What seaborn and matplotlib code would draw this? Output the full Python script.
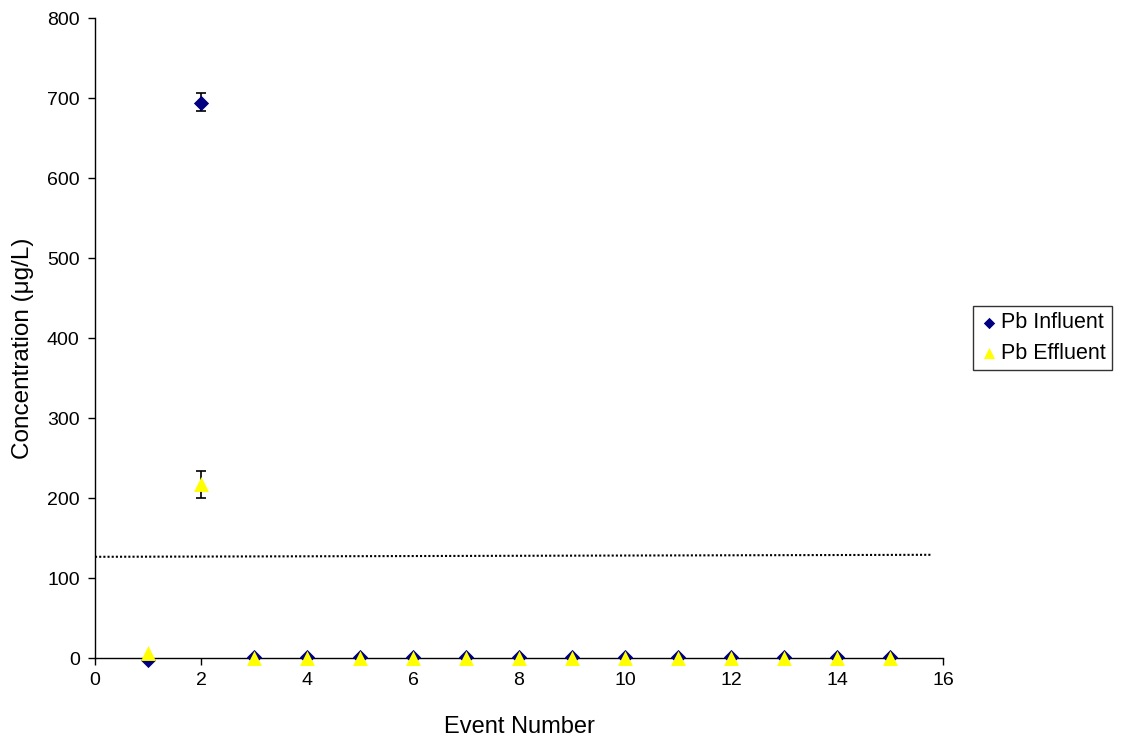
import numpy as np
import pandas as pd
import seaborn as sns
import matplotlib.pyplot as plt

events = [1, 2, 3, 4, 5, 6, 7, 8, 9, 10, 11, 12, 13, 14, 15]
influent = [-3, 694, 1, 1, 1, 1, 1, 1, 1, 1, 1, 1, 1, 1, 1]
effluent = [6, 217, 0.5, 0.5, 0.5, 0.5, 0.5, 0.5, 0.5, 0.5, 0.5, 0.5, 0.5, 0.5, 0.5]
influent_err = [10, 12]
effluent_err = [17, 17]
limit_x = [0, 15.8]
limit_y = [126.5, 129]

df_in = pd.DataFrame({"Event": events, "Conc": influent})
df_out = pd.DataFrame({"Event": events, "Conc": effluent})

sns.set_style("white")
plt.rcParams['font.family'] = ['Liberation Sans', 'DejaVu Sans']
plt.rcParams['text.color'] = 'black'
plt.rcParams['axes.labelcolor'] = 'black'
plt.rcParams['xtick.color'] = 'black'
plt.rcParams['ytick.color'] = 'black'

fig = plt.figure(figsize=(11.23, 7.38), dpi=100)
ax = fig.add_axes([0.0846, 0.1084, 0.7551, 0.8672])

# error bars first, so markers sit on top
ax.errorbar([2], [influent[1]], yerr=[[influent_err[0]], [influent_err[1]]], fmt='none', ecolor='black',
            elinewidth=1.2, capsize=3.6, capthick=1.2, zorder=1)
ax.errorbar([2], [effluent[1]], yerr=[[effluent_err[0]], [effluent_err[1]]], fmt='none', ecolor='black',
            elinewidth=1.2, capsize=3.6, capthick=1.2, zorder=1)

sns.scatterplot(data=df_in, x="Event", y="Conc", color="#000080", marker="D",
                s=60, linewidth=0, ax=ax, zorder=3, label="Pb Influent", clip_on=False)
sns.scatterplot(data=df_out, x="Event", y="Conc", color="#FFFF00", marker="^",
                s=115, linewidth=0, ax=ax, zorder=4, label="Pb Effluent", clip_on=False)

ax.plot(limit_x, limit_y, color='black', linestyle=(0, (1, 1)), linewidth=1.5, zorder=2)

ax.set_xlim(0, 16)
ax.set_ylim(0, 800)
ax.set_xticks(range(0, 17, 2))
ax.set_yticks(range(0, 801, 100))
ax.tick_params(axis='both', labelsize=14, direction='out', length=5,
               bottom=True, left=True, width=1)
ax.tick_params(axis='y', pad=6)
ax.tick_params(axis='x', pad=5)
for side in ['top', 'right']:
    ax.spines[side].set_visible(False)
for side in ['left', 'bottom']:
    ax.spines[side].set_color('black')
    ax.spines[side].set_linewidth(1)

ax.set_xlabel('Event Number', fontsize=17)
ax.set_ylabel('Concentration (\u03bcg/L)', fontsize=17.5)
ax.xaxis.set_label_coords(0.5, -0.09)
ax.yaxis.set_label_coords(-0.072, 0.484)

leg = ax.legend(loc='center left', bbox_to_anchor=(1.035, 0.5), borderaxespad=0, fontsize=15.5,
                frameon=True, fancybox=False, edgecolor='black', handletextpad=0.1,
                borderpad=0.3, labelspacing=0.45, handlelength=0.9, markerscale=0.75)
leg.get_frame().set_linewidth(1)

fig.savefig('out.png', dpi=100)
